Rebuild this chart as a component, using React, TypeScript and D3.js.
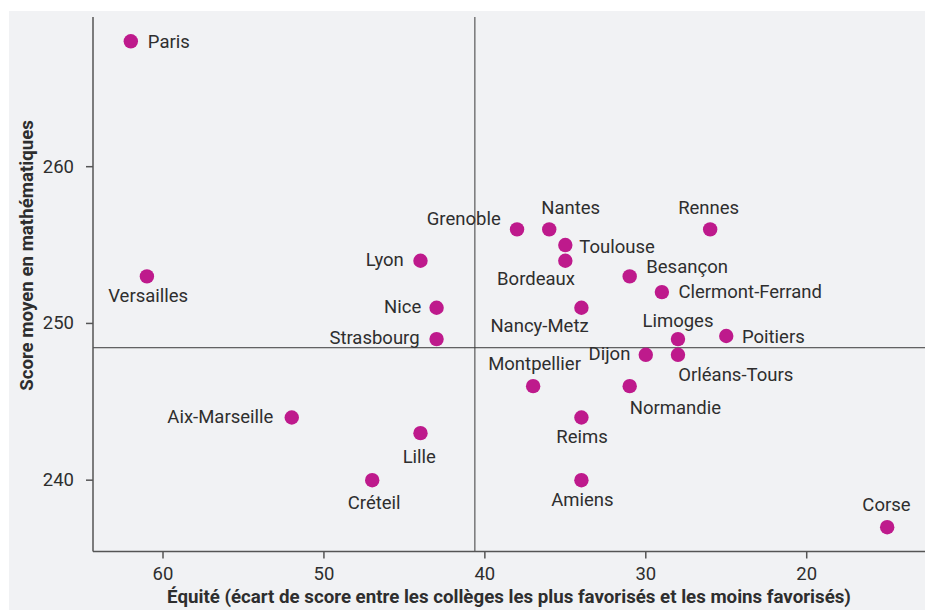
import React from "react";
import * as d3 from "d3";

// académies : écart de score (équité) et score moyen en mathématiques
const academies = [
  "Paris", "Versailles", "Aix-Marseille", "Créteil", "Lille", "Lyon", "Nice", "Strasbourg",
  "Grenoble", "Montpellier", "Nantes", "Toulouse", "Bordeaux", "Nancy-Metz", "Reims", "Amiens",
  "Besançon", "Normandie", "Dijon", "Clermont-Ferrand", "Limoges", "Orléans-Tours", "Rennes",
  "Poitiers", "Corse",
];
const equite = [62, 61, 52, 47, 44, 44, 43, 43, 38, 37, 36, 35, 35, 34, 34, 34, 31, 31, 30, 29, 28, 28, 26, 25, 15];
const scores = [268, 253, 244, 240, 243, 254, 251, 249, 256, 246, 256, 255, 254, 251, 244, 240, 253, 246, 248, 252, 249, 248, 256, 249.2, 237];

const xTicks = [60, 50, 40, 30, 20];
const yTicks = [240, 250, 260];
const refEquite = 40.62;
const refScore = 248.45;

const xTitle = "Équité (écart de score entre les collèges les plus favorisés et les moins favorisés)";
const yTitle = "Score moyen en mathématiques";

// placement des étiquettes : ancre, décalage x, décalage y (ligne de base)
const labelPos: Record<string, [string, number, number]> = {
  Paris: ["start", 17, 6.6],
  Versailles: ["middle", 1.3, 25.7],
  "Aix-Marseille": ["end", -18.4, 5.6],
  Grenoble: ["end", -16.3, -4.3],
  Nantes: ["middle", 21.5, -15.3],
  Toulouse: ["start", 14, 7.7],
  Bordeaux: ["middle", -29.3, 24.3],
  Lyon: ["end", -16.7, 5.3],
  Nice: ["end", -15.3, 5.6],
  Strasbourg: ["end", -17, 5],
  "Nancy-Metz": ["middle", -41.9, 24],
  "Besançon": ["start", 16.6, -3],
  "Clermont-Ferrand": ["start", 16.6, 6],
  Limoges: ["middle", 0, -12.6],
  Poitiers: ["start", 15.7, 6.6],
  Dijon: ["end", -15.4, 5.7],
  "Orléans-Tours": ["start", 0.3, 26.4],
  Normandie: ["start", 0, 28.3],
  Rennes: ["middle", -1.5, -15.3],
  Montpellier: ["middle", 1.4, -16.3],
  Reims: ["middle", 0.6, 25.6],
  Amiens: ["middle", 1, 25.7],
  Lille: ["middle", -1.2, 30],
  "Créteil": ["middle", 2, 29.3],
  Corse: ["middle", -0.7, -16.7],
};

const W = 925;
const H = 610;
const margin = { top: 17, right: 0, bottom: 58.5, left: 93 };
const DOT = "#be1a8c";
const TEXT = "#2e2e2e";
const AXIS = "#555555";
const FONT = "Roboto, 'Noto Sans', sans-serif";

export default function App() {
  const data = academies.map((name, i) => ({ name, x: equite[i], y: scores[i] }));

  // 5 % de marge autour de l'étendue des données
  const xExt = d3.extent(equite) as [number, number];
  const yExt = d3.extent(scores) as [number, number];
  const xPad = (xExt[1] - xExt[0]) * 0.05;
  const yPad = (yExt[1] - yExt[0]) * 0.05;

  const x = d3.scaleLinear()
    .domain([xExt[1] + xPad, xExt[0] - xPad])
    .range([margin.left, W - margin.right]);
  const y = d3.scaleLinear()
    .domain([yExt[0] - yPad, yExt[1] + yPad])
    .range([H - margin.bottom, margin.top]);

  const x0 = x.range()[0];
  const x1 = x.range()[1];
  const yBottom = y.range()[0];
  const yTop = y.range()[1];

  return (
    <svg width={W} height={H} style={{ position: "absolute", left: 0, top: 0, fontFamily: FONT }}>
      <rect x={9} y={11} width={W - 9} height={H - 11} fill="#f1f2f4" />

      {/* lignes de référence */}
      <line x1={x(refEquite)} x2={x(refEquite)} y1={yTop} y2={yBottom} stroke="#3a3a3a" strokeWidth={1} />
      <line x1={x0} x2={x1} y1={y(refScore)} y2={y(refScore)} stroke="#3a3a3a" strokeWidth={1} />

      {/* axes */}
      <line x1={x0} x2={x1} y1={yBottom} y2={yBottom} stroke={AXIS} strokeWidth={1.5} />
      <line x1={x0} x2={x0} y1={yTop} y2={yBottom} stroke={AXIS} strokeWidth={1.5} />
      {xTicks.map((t) => (
        <g key={"x" + t} transform={`translate(${x(t)},${yBottom})`}>
          <line y2={7} stroke={AXIS} strokeWidth={1.5} />
          <text y={28.5} textAnchor="middle" fontSize={18.5} fill={TEXT}>{t}</text>
        </g>
      ))}
      {yTicks.map((t) => (
        <g key={"y" + t} transform={`translate(${x0},${y(t)})`}>
          <line x2={-7} stroke={AXIS} strokeWidth={1.5} />
          <text x={-19} dy="0.32em" textAnchor="end" fontSize={18.5} fill={TEXT}>{t}</text>
        </g>
      ))}

      {/* titres */}
      <text x={(x0 + x1) / 2} y={603} textAnchor="middle" fontSize={18.7} fontWeight="bold" fill={TEXT}>
        {xTitle}
      </text>
      <text transform="translate(33,255.5) rotate(-90)" textAnchor="middle" fontSize={18.7} fontWeight="bold" fill={TEXT}>
        {yTitle}
      </text>

      {/* points et étiquettes */}
      {data.map((d) => {
        const [anchor, dx, dy] = labelPos[d.name];
        return (
          <g key={d.name}>
            <circle cx={x(d.x)} cy={y(d.y)} r={7.2} fill={DOT} />
            <text x={x(d.x) + dx} y={y(d.y) + dy} textAnchor={anchor} fontSize={18.5} fill={TEXT}>
              {d.name}
            </text>
          </g>
        );
      })}
    </svg>
  );
}
